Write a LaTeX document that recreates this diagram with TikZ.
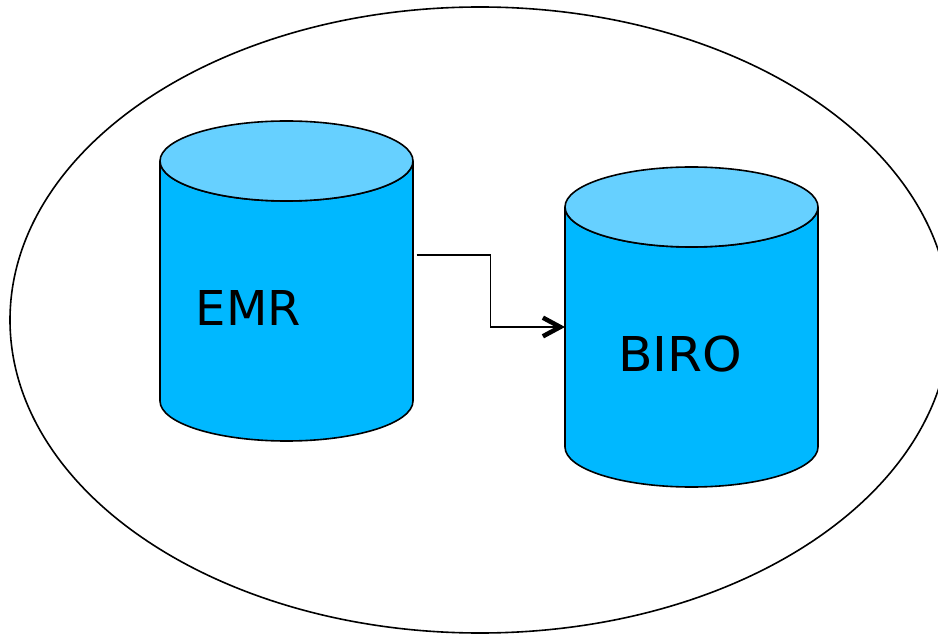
\documentclass[tikz,border=0pt]{standalone}
\usepackage{fontspec}
\setmainfont{DejaVu Sans}
\usetikzlibrary{arrows.meta}
\definecolor{cylbody}{HTML}{00B8FF}
\definecolor{cyltop}{HTML}{66D0FF}
\tikzset{
  x=0.75pt,y=-0.75pt,
  outline/.style={draw=black,line width=1.2pt},
  lbl/.style={font=\fontsize{36}{40}\selectfont,inner sep=0pt,text=black},
  conn/.style={draw=black,line width=1.2pt},
  anchorbox/.style={inner sep=0pt,minimum width=189.75pt,minimum height=180pt},
}
\newcommand{\mycyl}[3]{%
  \path[fill=cylbody,outline] (#1,#2) -- (#1,#2+240) arc[start angle=180,end angle=360,x radius=126.5,y radius=-40] -- (#1+253,#2) arc[start angle=0,end angle=180,x radius=126.5,y radius=40] -- cycle;
  \path[fill=cyltop,outline] (#1+126.5,#2) ellipse[x radius=126.5,y radius=40];
  \node[anchorbox,anchor=north west] (#3) at (#1,#2) {};
}
\begin{document}
\begin{tikzpicture}
\useasboundingbox (0,0) rectangle (938,634);
\clip (0,0) rectangle (938,634);
\fill[white] (0,0) rectangle (938,634);
\draw[outline] (480,320) ellipse[x radius=470,y radius=313];
\mycyl{160}{161}{emr}
\mycyl{565}{207}{biro}
\node[lbl,anchor=west] (emrl) at (195.5,308) {EMR};
\node[lbl,anchor=west,xscale=1.05] (birol) at (618,354) {BIRO};
\coordinate (a) at ([shift={(3,-26)}]emr.east);
\draw[conn,-{Straight Barb[length=13pt,width=14pt,line width=3.4pt]}] (a) -| (490.5,327) -- (biro.west |- 0,327);
\end{tikzpicture}
\end{document}
